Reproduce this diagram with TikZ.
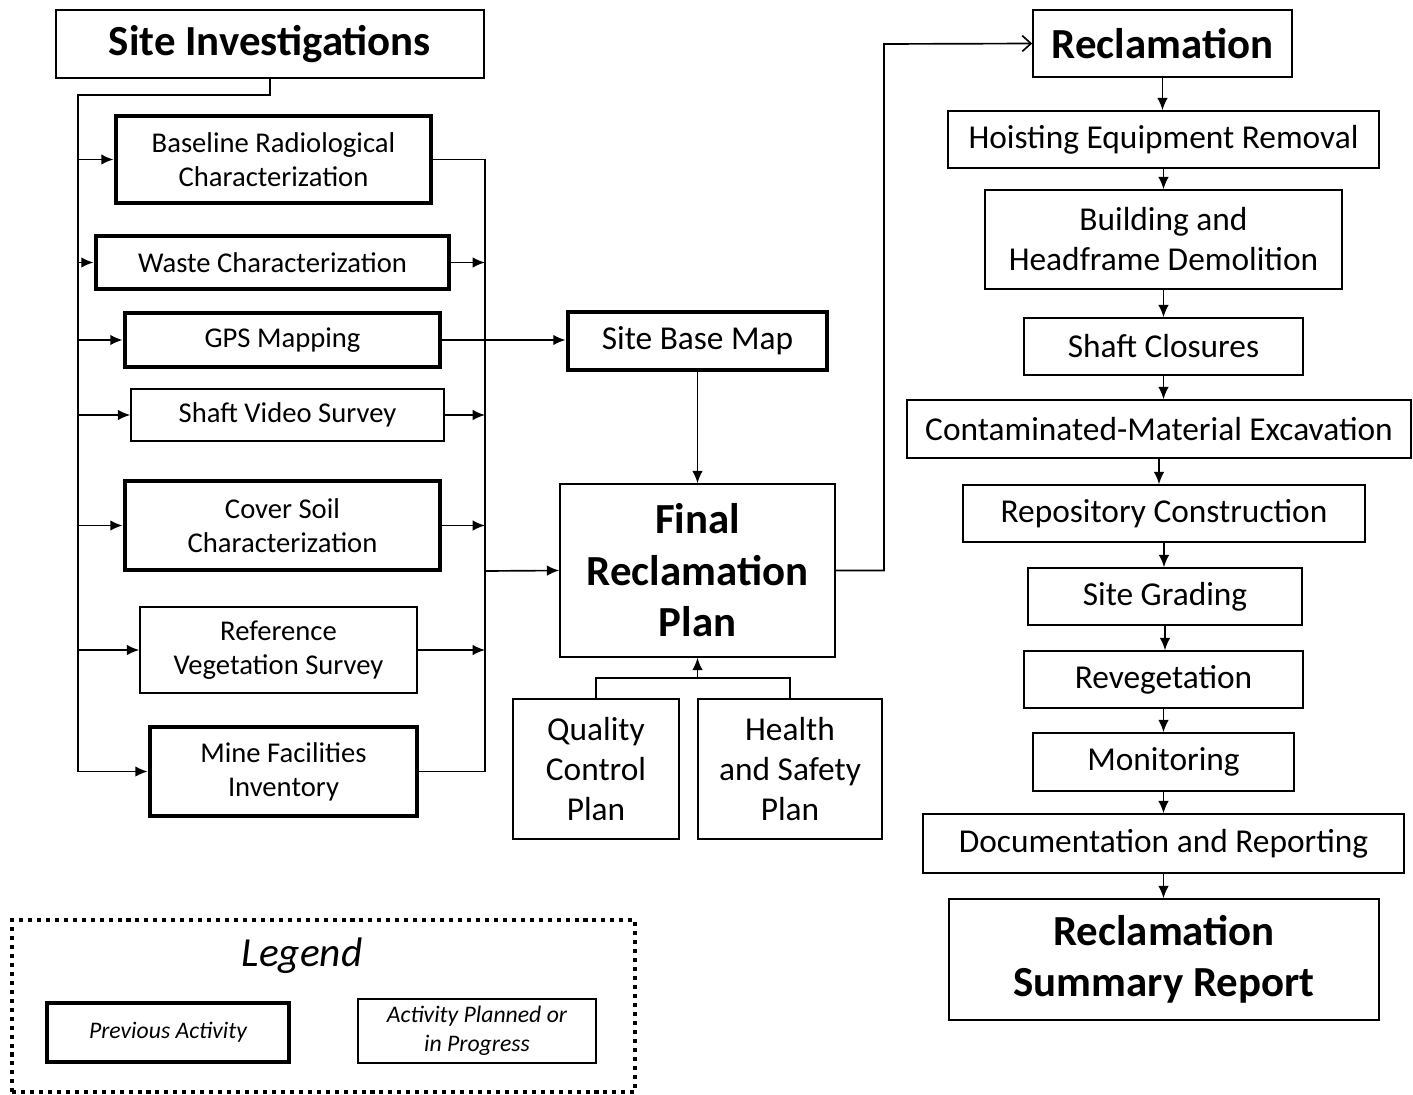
\documentclass[tikz,border=0pt]{standalone}
\usepackage{fontspec}
\setmainfont{Carlito}
\usetikzlibrary{arrows.meta}
\tikzset{
  thinbox/.style={draw, line width=0.9pt, align=center, inner sep=0pt, font=\fontsize{16.3}{19.4}\selectfont},
  thickbox/.style={thinbox, line width=2.8pt},
  rightbox/.style={thinbox, font=\fontsize{19}{22.8}\selectfont},
  bigbox/.style={thinbox, font=\bfseries\fontsize{24.4}{29.3}\selectfont},
  legendtext/.style={font=\itshape\fontsize{13.5}{16.4}\selectfont}
}
\begin{document}
\begin{tikzpicture}[x=0.02cm, y=-0.02cm, >={Latex[length=7pt,width=6pt]}, line width=0.95pt]
\useasboundingbox (0,0) rectangle (1413,1095);

\node[bigbox, minimum width=8.56cm, minimum height=1.36cm] (si) at (270,44) {Site Investigations};
\node[thickbox, minimum width=6.3cm, minimum height=1.74cm] (brc) at (273.5,159.5) {Baseline Radiological\\Characterization};
\node[thickbox, minimum width=7.06cm, minimum height=1.06cm] (waste) at (272.5,262.5) {Waste Characterization};
\node[thickbox, minimum width=6.3cm, minimum height=1.08cm] (gps) at (282.5,340) {GPS Mapping};
\node[thinbox, minimum width=6.26cm, minimum height=1.04cm] (video) at (287.5,415) {Shaft Video Survey};
\node[thickbox, minimum width=6.3cm, minimum height=1.78cm] (soil) at (282.5,525.5) {Cover Soil\\Characterization};
\node[thinbox, minimum width=5.54cm, minimum height=1.72cm] (veg) at (278.5,650) {Reference\\Vegetation Survey};
\node[thickbox, minimum width=5.34cm, minimum height=1.78cm] (mine) at (283.5,771.5) {Mine Facilities\\Inventory};

\node[thickbox, font=\fontsize{19}{22.8}\selectfont, minimum width=5.18cm, minimum height=1.16cm] (basemap) at (697.5,341) {Site Base Map};
\node[bigbox, minimum width=5.5cm, minimum height=3.46cm] (frp) at (697.5,570.5) {Final\\Reclamation\\Plan};
\node[rightbox, minimum width=3.32cm, minimum height=2.8cm] (qc) at (596,769) {Quality\\Control\\Plan};
\node[rightbox, minimum width=3.68cm, minimum height=2.8cm] (hs) at (790,769) {Health\\and Safety\\Plan};

\node[bigbox, minimum width=5.18cm, minimum height=1.34cm] (recl) at (1162.5,43.5) {Reclamation};
\node[rightbox, minimum width=8.62cm, minimum height=1.14cm] (hoist) at (1163.5,139.5) {Hoisting Equipment Removal};
\node[rightbox, minimum width=7.14cm, minimum height=1.98cm] (demol) at (1163.5,239.5) {Building and\\Headframe Demolition};
\node[rightbox, minimum width=5.58cm, minimum height=1.14cm] (shaft) at (1163.5,346.5) {Shaft Closures};
\node[rightbox, minimum width=10.08cm, minimum height=1.16cm] (excav) at (1159,429) {Contaminated-Material Excavation};
\node[rightbox, minimum width=8.04cm, minimum height=1.14cm] (repo) at (1164,513.5) {Repository Construction};
\node[rightbox, minimum width=5.48cm, minimum height=1.14cm] (grading) at (1165,596.5) {Site Grading};
\node[rightbox, minimum width=5.58cm, minimum height=1.14cm] (reveg) at (1163.5,679.5) {Revegetation};
\node[rightbox, minimum width=5.22cm, minimum height=1.16cm] (monit) at (1163.5,762) {Monitoring};
\node[rightbox, minimum width=9.62cm, minimum height=1.18cm] (docs) at (1163.5,843.5) {Documentation and Reporting};
\node[bigbox, minimum width=8.6cm, minimum height=2.42cm] (summary) at (1164,959.5) {Reclamation\\Summary Report};

% legend
\node[draw, line width=2.3pt, dash pattern=on 2.3pt off 2.8pt, minimum width=12.46cm, minimum height=3.44cm] (legendbox) at (323.5,1006) {};
\node[font=\itshape\fontsize{23.5}{28}\selectfont] (legendtitle) at (302,956) {Legend};
\node[thickbox, legendtext, minimum width=4.84cm, minimum height=1.18cm] (prev) at (168,1032.5) {Previous Activity};
\node[thinbox, legendtext, minimum width=4.76cm, minimum height=1.28cm] (planned) at (477,1031) {Activity Planned or\\in Progress};

\coordinate (lb) at (78,95);
\coordinate (rb) at (485,571);
\coordinate (qhs) at (697.5,678);
\coordinate (turn) at (884,44);

\draw[->] (si.south) |- (lb) |- (mine.west);
\foreach \n in {brc, waste, gps, video, soil, veg}
  \draw[->] (lb |- \n.west) -- (\n.west);
\draw (brc.east) -| (rb) |- (mine.east);
\foreach \n in {waste, video, soil, veg}
  \draw[->] (\n.east) -- (rb |- \n.east);
\draw[->] (gps.east) -- (gps.east -| basemap.west);
\draw[->] (rb) -- (frp.west);
\draw[->] (basemap.south) -- (frp.north);
\draw (qc.north) |- (qhs) -| (hs.north);
\draw[->] (qhs) -- (frp.south);
\draw[-{Straight Barb[length=5pt,width=9pt]}] (frp.east) -| (turn) -- (recl.west);

\foreach \a/\b in {recl/hoist, hoist/demol, demol/shaft, shaft/excav, excav/repo, repo/grading, grading/reveg, reveg/monit, monit/docs, docs/summary}
  \draw[->] (\a.south) -- (\a.south |- \b.north);
\end{tikzpicture}
\end{document}
